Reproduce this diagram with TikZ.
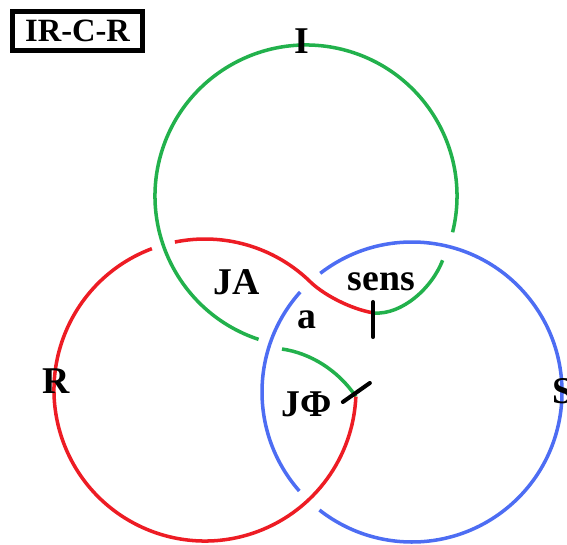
\documentclass[tikz,border=0pt]{standalone}
\usepackage{fontspec}
\setmainfont{Liberation Serif}
\usepackage{xcolor}
\usetikzlibrary{calc}
\definecolor{ringred}{RGB}{237,28,36}
\definecolor{ringgreen}{RGB}{34,177,76}
\definecolor{ringblue}{RGB}{77,109,243}
\tikzset{
  ring/.style={line width=2pt},
  rred/.style={ring, draw=ringred},
  rgreen/.style={ring, draw=ringgreen},
  rblue/.style={ring, draw=ringblue},
  tickln/.style={line width=2.3pt, line cap=round, draw=black},
  lbl/.style={inner sep=0pt, anchor=base,
              font=\fontsize{21.5}{24}\selectfont\bfseries},
  titlebox/.style={rectangle, draw=black, line width=2.8pt,
                   minimum width=2.6cm, minimum height=0.78cm, inner sep=0pt,
                   font=\fontsize{18.5}{20}\selectfont\bfseries},
}
\begin{document}
\begin{tikzpicture}[x=0.02cm, y=-0.02cm]
  \useasboundingbox (0,0) rectangle (567,544);
  % ring centres
  \coordinate (cI) at (306,196);
  \coordinate (cR) at (205,390);
  \coordinate (cS) at (412,392);
  % colour changes
  \coordinate (j1) at (374,313);
  \coordinate (j2) at ($(cR)+(2.5:151)$);
  % blue ring S, broken under red
  \draw[rblue] ($(cS)+(232.3:150)$) arc[start angle=232.3, end angle=488.1, radius=150];
  \draw[rblue] ($(cS)+(138.7:150)$) arc[start angle=138.7, end angle=221.8, radius=150];
  % green part I
  \draw[rgreen] ($(cI)+(108.3:151)$) arc[start angle=108.3, end angle=373.9, radius=151];
  \draw[rgreen] ($(cI)+(25.2:151)$) .. controls (432,288) and (402,315) .. (j1);
  \draw[rgreen] (j2) .. controls (338,370) and (310,353) .. (282,349);
  % red part R
  \draw[rred] ($(cR)+(249.4:151)$) arc[start angle=249.4, end angle=2.5, radius=151];
  \draw[rred] ($(cR)+(258.5:151)$) arc[start angle=258.5, end angle=313.4, radius=151]
        .. controls (322,294) and (350,309) .. (j1);
  % ticks
  \draw[tickln] ($(j1)+(-1,-11)$) -- ($(j1)+(-1,24)$);
  \draw[tickln] ($(j2)+(-13,5.4)$) -- ($(j2)+(14,-13.6)$);
  % labels
  \node[titlebox] (title) at (77.5,31.3) {IR-C-R};
  \node[lbl] (lI) at (301.5,53) {I};
  \node[lbl] (lR) at (56,393) {R};
  \node[lbl, anchor=base west] (lS) at (552,403) {S};
  \node[lbl] (lJA) at (236.5,294) {JA};
  \node[lbl] (lsens) at (381.5,290) {sens};
  \node[lbl] (la) at (306.5,328) {a};
  \node[lbl] (lJF) at (306.5,416) {JΦ};
\end{tikzpicture}
\end{document}
